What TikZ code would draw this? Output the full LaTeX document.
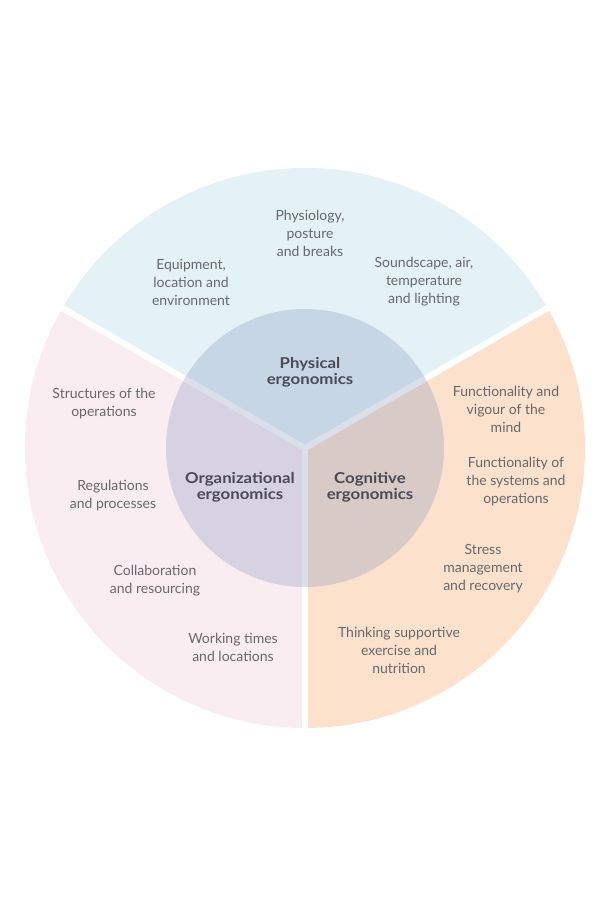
\documentclass[tikz,border=0pt]{standalone}
\usepackage{fontspec}
\setmainfont{Lato}
\newfontfamily\headfont{Lato}[FakeStretch=1.12]
\definecolor{topc}{RGB}{228,242,247}
\definecolor{leftc}{RGB}{250,237,242}
\definecolor{rightc}{RGB}{252,225,204}
\definecolor{overc}{RGB}{140,156,190}
\definecolor{txt}{RGB}{104,104,108}
\definecolor{btxt}{RGB}{74,74,86}
\tikzset{
  item/.style={align=center, text=txt, font=\fontsize{14}{18}\selectfont, inner sep=0pt},
  head/.style={align=center, text=btxt, font=\headfont\bfseries\fontsize{15}{16}\selectfont, inner sep=0pt},
  gap/.style={white, line width=6pt}
}
\begin{document}
\begin{tikzpicture}[x=1pt,y=1pt]
\fill[white] (0,0) rectangle (600,-900);
\useasboundingbox (0,0) rectangle (600,-900);
\coordinate (C) at (305,-448);
% sectors
\fill[topc] (C) -- ++(30:280) arc[start angle=30, end angle=150, radius=280pt] -- cycle;
\fill[rightc] (C) -- ++(-90:280) arc[start angle=-90, end angle=30, radius=280pt] -- cycle;
\fill[leftc] (C) -- ++(150:280) arc[start angle=150, end angle=270, radius=280pt] -- cycle;
% gaps
\draw[gap] (C) -- ++(30:290) coordinate (g1);
\draw[gap] (C) -- ++(150:290) coordinate (g2);
\draw[gap] (C) -- ++(-90:290) coordinate (g3);
% inner circle
\fill[overc, opacity=0.32] (C) circle[radius=139pt];
% headings
\node[head] (phys) at (310,-372) {Physical\\ergonomics};
\node[head] (org) at (240,-487) {Organizational\\ergonomics};
\node[head] (cog) at (370,-487) {Cognitive\\ergonomics};
% physical items
\node[item] (p1) at (310,-233) {Physiology,\\posture\\and breaks};
\node[item] (p2) at (191,-282) {Equipment,\\location and\\environment};
\node[item] (p3) at (424,-282) {Soundscape, air,\\temperature\\and lighting};
% organizational items
\node[item] (o1) at (104,-404) {Structures of the\\operations};
\node[item] (o2) at (113,-496) {Regulations\\and processes};
\node[item] (o3) at (155,-581) {Collaboration\\and resourcing};
\node[item] (o4) at (233,-647) {Working times\\and locations};
% cognitive items
\node[item] (c1) at (506,-409) {Functionality and\\vigour of the\\mind};
\node[item] (c2) at (516,-482) {Functionality of\\the systems and\\operations};
\node[item] (c3) at (483,-569) {Stress\\management\\and recovery};
\node[item] (c4) at (399,-650) {Thinking supportive\\exercise and\\nutrition};
\end{tikzpicture}
\end{document}
